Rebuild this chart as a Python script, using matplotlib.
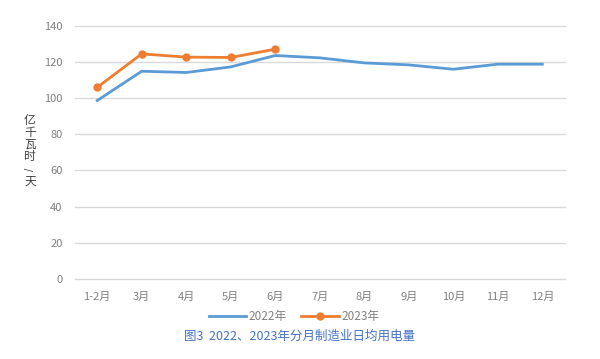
import matplotlib
matplotlib.use("Agg")
import matplotlib.pyplot as plt

plt.rcParams["font.family"] = ["Noto Sans CJK SC", "DejaVu Sans"]

months = ["1-2月", "3月", "4月", "5月", "6月", "7月", "8月", "9月", "10月", "11月", "12月"]
vals_2022 = [98.7, 114.9, 114.2, 117.3, 123.6, 122.3, 119.5, 118.4, 116.0, 118.8, 118.8]
vals_2023 = [106.0, 124.5, 122.7, 122.5, 127.1]
ylabel_chars = ["亿", "千", "瓦", "时", "/", "天"]

C22 = "#5B9BD5"
C23 = "#ED7D31"
GRAY = "#808080"

fig = plt.figure(figsize=(6.0, 3.59), dpi=100)
ax = fig.add_axes([0.125, 0.223, 0.816, 0.705])

x = list(range(len(months)))
ax.plot(x, vals_2022, color=C22, linewidth=2.0, label="2022年")
ax.plot(x[:len(vals_2023)], vals_2023, color=C23, linewidth=2.0, marker="o",
        markersize=5, label="2023年")

ax.set_xlim(-0.5, len(months) - 0.5)
ax.set_ylim(0, 140)
ax.set_yticks(range(0, 141, 20))
ax.set_xticks(x)
ax.set_xticklabels(months)
ax.grid(axis="y", color="#D9D9D9", linewidth=1)
for gl in ax.get_ygridlines():
    gl.set_clip_on(False)
ax.set_axisbelow(True)
for s in ax.spines.values():
    s.set_visible(False)
ax.tick_params(length=0, colors=GRAY, labelsize=8, pad=9)

# vertical stacked unit label (slash turned like vertical CJK text)
step = 0.034
for i, ch in enumerate(ylabel_chars):
    y = 0.665 - i * step
    if ch == "/":
        fig.text(0.05, y, ch, ha="center", va="center", fontsize=7,
                 color="#404040", rotation=90, family="DejaVu Sans")
    else:
        fig.text(0.05, y, ch, ha="center", va="center", fontsize=8.5,
                 color="#404040")

fig.legend(loc="center", bbox_to_anchor=(0.49, 0.118), ncol=2, frameon=False,
           fontsize=8.5, labelcolor=GRAY, handlelength=3.2, columnspacing=1.2,
           handletextpad=0.2)

fig.text(0.5, 0.062, "图3  2022、2023年分月制造业日均用电量", ha="center", va="center",
         fontsize=9, color="#4472C4")

fig.savefig("out.png", dpi=100)
